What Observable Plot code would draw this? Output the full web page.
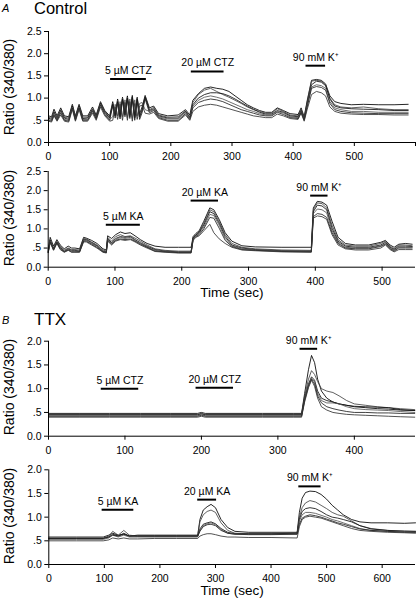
<!DOCTYPE html>
<html><head><meta charset="utf-8">
<script src="https://cdn.jsdelivr.net/npm/d3@7"></script>
<script src="https://cdn.jsdelivr.net/npm/@observablehq/plot@0.6"></script>
<style>
body{margin:0;background:#fff;}
#wrap{position:relative;width:416px;height:600px;font-family:"Liberation Sans",Arial,sans-serif;overflow:hidden;}
.pnl{position:absolute;left:0;z-index:1;}
#hdr{position:absolute;left:0;top:0;z-index:2;pointer-events:none;}
</style></head>
<body><div id="wrap">
<svg id="hdr" width="416" height="600" font-family="Liberation Sans, Arial, sans-serif" fill="#000">
<text x="2" y="12" font-size="11" font-style="italic">A</text>
<text x="34" y="14" font-size="16.5">Control</text>
<text x="2" y="324" font-size="11" font-style="italic">B</text>
<text x="34" y="325" font-size="17">TTX</text>
<text transform="translate(14,87) rotate(-90)" text-anchor="middle" font-size="14">Ratio (340/380)</text>
<text transform="translate(14,218) rotate(-90)" text-anchor="middle" font-size="14">Ratio (340/380)</text>
<text transform="translate(14,387) rotate(-90)" text-anchor="middle" font-size="14">Ratio (340/380)</text>
<text transform="translate(14,516) rotate(-90)" text-anchor="middle" font-size="14">Ratio (340/380)</text>
</svg>
</div>
<script>
// ---------- Panel A1: Control, CTZ ----------
const a1Time = [0,5,9,14,20,26,33,39,44,50,56,64,72,78,85,92,100,105,109,113,117,121,125,129,133,137,141,145,149,153,158,165,172,180,195,212,224,231,236,245,255,265,275,285,295,305,315,325,335,345,355,365,374,384,395,408,413,418,423,430,438,446,453,460,468,478,495,515,540,565,588];
const a1Values = [
 [.60,.58,.75,.60,.78,.60,.58,.86,.60,.86, .60,.60,.80,.62,.92,.72,.60,.92,.65,.98, .65,1.02,.70,1.05,.66,1.06,.62,1.02,.65,.80, 1.06,.78,.82,.65,.60,.62,.74,.62,.95,1.10, 1.22,1.25,1.22,1.20,1.15,1.05,.95,.85,.78,.72, .68,.68,.78,.72,.65,.63,.78,.58,.95,1.40, 1.42,1.40,1.32,1.05,.92,.88,.85,.86,.85,.85, .86],
 [.57,.55,.70,.57,.74,.57,.55,.84,.57,.84, .57,.57,.76,.60,.90,.70,.57,.88,.62,.95, .60,1.00,.66,1.02,.62,1.03,.58,1.00,.60,.76, 1.04,.74,.79,.62,.57,.58,.71,.58,.90,1.08, 1.18,1.22,1.15,1.08,1.02,.95,.88,.80,.74,.70, .66,.66,.76,.70,.62,.60,.74,.55,.92,1.38, 1.40,1.38,1.30,1.00,.85,.80,.78,.80,.76,.74, .74],
 [.55,.52,.68,.54,.72,.55,.52,.82,.54,.82, .54,.55,.74,.57,.88,.68,.55,.86,.60,.92, .57,.98,.62,1.00,.58,1.02,.55,.98,.57,.72, 1.02,.72,.76,.60,.55,.55,.70,.56,.85,1.00, 1.08,1.12,1.12,1.10,1.05,.98,.90,.82,.75,.68, .64,.64,.72,.68,.60,.58,.72,.53,.88,1.30, 1.38,1.36,1.28,.98,.82,.78,.76,.75,.74,.72, .72],
 [.52,.50,.66,.52,.70,.52,.50,.80,.52,.80, .52,.52,.72,.55,.86,.66,.52,.58,.86,.60, .92,.58,.96,.56,.98,.54,.96,.60,.88,.90, .74,.70,.74,.58,.53,.53,.68,.55,.82,.95, 1.02,1.05,1.02,.98,.92,.86,.80,.74,.70,.65, .62,.62,.70,.66,.58,.56,.70,.52,.85,1.25, 1.30,1.28,1.22,.92,.78,.74,.70,.70,.68,.68, .68],
 [.50,.48,.62,.50,.66,.50,.48,.78,.50,.78, .50,.50,.70,.53,.84,.63,.50,.82,.55,.88, .53,.94,.58,.96,.54,.98,.50,.92,.52,.67, .98,.67,.72,.56,.50,.50,.65,.52,.78,.90, .95,.98,.96,.92,.86,.80,.74,.70,.66,.62, .60,.60,.68,.63,.56,.54,.68,.50,.80,1.22, 1.26,1.24,1.18,.88,.74,.70,.67,.66,.65,.65, .65],
 [.48,.46,.60,.48,.62,.48,.46,.74,.48,.74, .48,.48,.66,.50,.80,.60,.48,.50,.80,.52, .86,.50,.90,.50,.92,.48,.88,.52,.82,.84, .66,.64,.68,.54,.48,.48,.62,.50,.70,.80, .84,.86,.84,.80,.76,.72,.68,.64,.60,.58, .56,.56,.64,.60,.54,.52,.66,.48,.75,1.08, 1.15,1.12,1.05,.80,.70,.66,.64,.63,.63,.62, .62]
];
const a1BarLabel = ["5 µM CTZ","20 µM CTZ","90 mM K⁺"];
const a1BarStart = [101.5,233.5,421];
const a1BarEnd = [160,287,453];
const a1BarLevel = [1.43,1.6,1.73];

// ---------- Panel A2: Control, KA ----------
const a2Time = [0,3,8,13,18,24,30,35,40,47,53,57,65,73,82,87,89,95,101,108,115,123,130,138,148,160,175,195,214,217,221,226,233,242,248,256,265,275,290,310,350,394,397,403,410,417,425,434,445,460,480,498,505,512,518,525,535,545];
const a2Values = [
 [.45,.78,.55,.72,.58,.48,.55,.50,.50,.48, .78,.76,.70,.62,.48,.45,.82,.75,.85,.92, .88,.90,.82,.72,.62,.55,.52,.52,.52,.80, .88,.95,1.20,1.55,1.50,1.25,.90,.68,.56,.53, .52,.52,1.55,1.72,1.70,1.62,1.20,.78,.62,.58, .58,.65,.70,.58,.52,.60,.62,.60],
 [.42,.72,.50,.68,.55,.45,.50,.46,.46,.45, .75,.74,.66,.58,.45,.42,.78,.68,.80,.85, .80,.82,.76,.68,.58,.48,.44,.42,.42,.78, .85,.92,1.15,1.50,1.45,1.20,.85,.62,.52,.48, .45,.44,1.50,1.68,1.66,1.55,1.10,.72,.58,.55, .55,.62,.68,.55,.48,.58,.58,.56],
 [.40,.70,.48,.66,.52,.42,.48,.44,.44,.42, .72,.72,.64,.56,.42,.40,.75,.64,.75,.80, .78,.80,.72,.64,.55,.46,.42,.40,.40,.76, .84,.90,1.10,1.45,1.40,1.15,.80,.58,.50,.46, .43,.42,1.45,1.62,1.60,1.50,1.02,.68,.55,.52, .52,.58,.65,.52,.46,.55,.55,.54],
 [.40,.68,.47,.65,.50,.41,.46,.42,.42,.41, .70,.70,.62,.55,.41,.39,.72,.62,.72,.78, .75,.78,.70,.62,.53,.44,.41,.39,.39,.74, .82,.88,1.05,1.38,1.35,1.10,.75,.56,.48,.45, .42,.41,1.40,1.52,1.50,1.42,.96,.65,.52,.50, .50,.56,.62,.50,.44,.52,.52,.52],
 [.38,.66,.45,.64,.48,.40,.45,.40,.40,.40, .68,.68,.60,.52,.40,.38,.70,.60,.70,.74, .72,.74,.68,.60,.52,.42,.40,.38,.38,.72, .80,.85,1.00,1.30,1.28,1.02,.70,.54,.46,.44, .41,.40,1.32,1.40,1.38,1.30,.90,.62,.50,.48, .48,.54,.60,.48,.42,.50,.50,.50],
 [.38,.64,.44,.62,.46,.39,.44,.39,.39,.39, .66,.66,.58,.50,.39,.37,.68,.58,.68,.72, .70,.72,.66,.58,.50,.41,.39,.37,.37,.70, .78,.82,.95,1.12,.90,.74,.62,.52,.45,.43, .40,.39,1.28,1.34,1.32,1.25,.85,.58,.48,.45, .45,.50,.58,.46,.40,.46,.46,.46]
];
const a2BarLabel = ["5 µM KA","20 µM KA","90 mM K⁺"];
const a2BarStart = [87,214,393];
const a2BarEnd = [138,255,419];
const a2BarLevel = [1.11,1.74,1.87];

// ---------- Panel B1: TTX, CTZ ----------
const b1Time = [0,40,80,120,160,195,200,205,240,280,320,331,335,340,344,348,352,357,364,372,380,390,400,415,430,445,460,479];
const b1Values = [
 [.48,.48,.48,.48,.48,.48,.50,.48,.48,.48,.48,.48, .90,1.40,1.70,1.55,1.20,.95,.80,.72,.68,.65,.62,.60,.58,.57,.55,.54],
 [.46,.46,.46,.46,.46,.46,.48,.46,.46,.46,.46,.46, .85,1.20,1.38,1.30,1.15,1.00,.95,.92,.85,.75,.68,.65,.62,.60,.58,.56],
 [.45,.45,.45,.45,.45,.45,.47,.45,.45,.45,.45,.45, .80,1.10,1.25,1.18,.95,.80,.75,.72,.68,.65,.63,.62,.61,.60,.56,.54],
 [.43,.43,.43,.43,.43,.43,.46,.43,.43,.43,.43,.43, .78,1.08,1.22,1.15,.90,.75,.70,.70,.68,.62,.58,.56,.55,.54,.52,.50],
 [.42,.42,.42,.42,.42,.42,.44,.42,.42,.42,.42,.42, .75,1.05,1.20,1.10,.85,.70,.62,.58,.55,.52,.50,.50,.49,.49,.48,.48],
 [.40,.40,.40,.40,.40,.40,.42,.40,.40,.40,.40,.40, .72,1.02,1.18,1.05,.80,.62,.55,.50,.48,.46,.45,.44,.43,.42,.41,.40]
];
const b1BarLabel = ["5 µM CTZ","20 µM CTZ","90 mM K⁺"];
const b1BarStart = [69,193,329];
const b1BarEnd = [118,242,352];
const b1BarLevel = [1.0,1.02,1.84];

// ---------- Panel B2: TTX, KA ----------
const b2Time = [0,50,98,108,115,125,135,145,160,190,230,268,272,278,285,292,300,310,322,335,360,400,447,451,456,462,470,480,490,500,510,520,530,545,560,580,610,640,660];
const b2Values = [
 [.58,.58,.58,.62,.66,.62,.64,.60,.62,.62, .62,.62,.95,1.15,1.22,1.27,1.20,.95,.78,.70, .68,.68,.68,1.10,1.40,1.52,1.55,1.54,1.48,1.38, 1.25,1.15,1.05,.95,.90,.88,.88,.87,.88],
 [.56,.56,.56,.60,.70,.62,.72,.62,.60,.60, .60,.60,.90,1.05,1.12,1.15,1.10,.88,.72,.66, .65,.65,.66,1.00,1.20,1.30,1.35,1.32,1.25,1.18, 1.10,1.05,1.02,.92,.82,.76,.72,.71,.70],
 [.55,.55,.55,.58,.64,.60,.66,.60,.60,.60, .60,.60,.75,.85,.88,.90,.86,.76,.68,.65, .65,.65,.66,.95,1.12,1.18,1.20,1.18,1.12,1.05, 1.00,.98,.95,.90,.82,.75,.72,.70,.70],
 [.53,.53,.53,.56,.62,.58,.62,.58,.58,.58, .58,.58,.72,.82,.86,.88,.84,.74,.66,.64, .64,.64,.64,.92,1.05,1.10,1.10,1.08,1.04,1.00, .95,.92,.88,.82,.76,.72,.70,.69,.68],
 [.55,.55,.55,.58,.62,.60,.64,.60,.60,.60, .60,.60,.70,.80,.84,.85,.82,.72,.66,.64, .63,.63,.64,.85,.98,1.02,1.05,1.03,1.00,.96, .92,.88,.85,.80,.75,.72,.70,.68,.68],
 [.50,.50,.50,.52,.56,.54,.56,.54,.54,.55, .55,.55,.60,.63,.65,.65,.63,.60,.58,.58, .57,.57,.56,.80,.95,1.00,1.02,1.00,.98,.94, .90,.86,.82,.76,.72,.70,.68,.67,.66]
];
const b2BarLabel = ["5 µM KA","20 µM KA","90 mM K⁺"];
const b2BarStart = [96,268,450];
const b2BarEnd = [153,302,490];
const b2BarLevel = [1.155,1.37,1.65];

// ---------- shared axis ticks ----------
const yTicksA = [0,0.5,1,1.5,2,2.5];
const yTicksB = [0,0.5,1,1.5,2];
const traceColors = ["#000","#444","#111","#555","#222","#333"];
const fmtY = d => d === 0.5 ? ".5" : d.toFixed(1);

function panel(c) {
  const marks = [];
  c.values.forEach((vals, i) => {
    marks.push(Plot.line(vals, {x: (d, j) => c.time[j], y: d => d, stroke: traceColors[i], strokeWidth: 0.85}));
  });
  marks.push(Plot.ruleY([0], {stroke: "#000", strokeWidth: 1}));
  marks.push(Plot.ruleX([0], {stroke: "#000", strokeWidth: 1}));
  marks.push(Plot.axisX({ticks: c.xTicks, tickSize: 4, tickPadding: 6, fontSize: 10.5, label: null,
    tickFormat: d => c.xLabels.includes(d) ? String(d) : ""}));
  marks.push(Plot.axisY({ticks: c.yTicks, tickSize: 4, tickPadding: 3, fontSize: 10.5, label: null, tickFormat: fmtY}));
  marks.push(Plot.ruleY(c.barLevel, {y: d => d, x1: (d, i) => c.barStart[i], x2: (d, i) => c.barEnd[i], stroke: "#000", strokeWidth: 2}));
  marks.push(Plot.text(c.barLabel, {x: (d, i) => (c.barStart[i] + c.barEnd[i]) / 2, y: (d, i) => c.barLevel[i],
    text: d => d, dy: -5, lineAnchor: "bottom", fontSize: 10.5, fill: "#000"}));
  if (c.timeLabel) marks.push(Plot.text(["Time (sec)"], {frameAnchor: "bottom", dy: 30, text: d => d, fontSize: 13.5, fill: "#000"}));
  const svg = Plot.plot({
    width: 416, height: c.height,
    marginTop: c.mt, marginBottom: c.mb, marginLeft: c.ml, marginRight: 1,
    x: {domain: c.xDomain}, y: {domain: c.yDomain},
    style: {fontFamily: '"Liberation Sans", Arial, sans-serif', fontSize: "10.5px", color: "#000", background: "transparent", overflow: "visible"},
    marks
  });
  const div = document.createElement("div");
  div.className = "pnl";
  div.style.top = c.top + "px";
  div.appendChild(svg);
  document.getElementById("wrap").appendChild(div);
}

panel({time: a1Time, values: a1Values, barLabel: a1BarLabel, barStart: a1BarStart, barEnd: a1BarEnd, barLevel: a1BarLevel,
  xDomain: [0,600], xTicks: [0,100,200,300,400,500,600], xLabels: [0,100,200,300,400,500], yDomain: [0,2.5], yTicks: yTicksA,
  top: 20, height: 145, mt: 11, mb: 23, ml: 48, timeLabel: false});
panel({time: a2Time, values: a2Values, barLabel: a2BarLabel, barStart: a2BarStart, barEnd: a2BarEnd, barLevel: a2BarLevel,
  xDomain: [0,550], xTicks: [0,100,200,300,400,500], xLabels: [0,100,200,300,400,500], yDomain: [0,2.5], yTicks: yTicksA,
  top: 160, height: 140, mt: 11, mb: 33.3, ml: 47.7, timeLabel: true});
panel({time: b1Time, values: b1Values, barLabel: b1BarLabel, barStart: b1BarStart, barEnd: b1BarEnd, barLevel: b1BarLevel,
  xDomain: [0,480], xTicks: [0,100,200,300,400], xLabels: [0,100,200,300,400], yDomain: [0,2], yTicks: yTicksB,
  top: 330, height: 130, mt: 10.7, mb: 24.3, ml: 48, timeLabel: false});
panel({time: b2Time, values: b2Values, barLabel: b2BarLabel, barStart: b2BarStart, barEnd: b2BarEnd, barLevel: b2BarLevel,
  xDomain: [0,660], xTicks: [0,100,200,300,400,500,600], xLabels: [0,100,200,300,400,500,600], yDomain: [0,2], yTicks: yTicksB,
  top: 460, height: 140, mt: 9.3, mb: 36, ml: 48.3, timeLabel: true});
</script>
</body></html>
